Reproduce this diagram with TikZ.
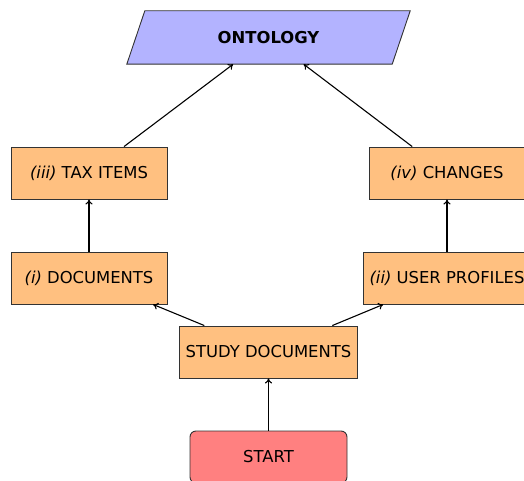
\documentclass[tikz,border=0pt]{standalone}
\usepackage{fontspec}
\setmainfont{DejaVu Sans}
\usetikzlibrary{arrows.meta}
\pgfdeclarelayer{background}
\pgfsetlayers{background,main}
\definecolor{boxfill}{RGB}{255,192,128}
\definecolor{ontofill}{RGB}{179,179,255}
\definecolor{startfill}{RGB}{255,128,128}
\tikzset{
  labelfont/.style={font=\fontsize{16.4}{19}\selectfont},
  stepbox/.style={draw=black!80, fill=boxfill, rectangle, minimum width=156pt,
    minimum height=52pt, inner xsep=6pt, line width=0.9pt, labelfont},
  startbox/.style={stepbox, fill=startfill, rounded corners=6pt, minimum width=157pt},
  flow/.style={-{To[length=5pt,width=7pt]}, line width=1.1pt}
}
\begin{document}
\begin{tikzpicture}[x=1pt,y=-1pt]
  \useasboundingbox (0,0) rectangle (524,481);
  \clip (0,0) rectangle (524,481);

  % ontology: text node framed by a parallelogram behind it
  \node[minimum width=283pt, minimum height=53pt, inner sep=0pt,
        labelfont, font=\fontsize{16.4}{19}\selectfont\bfseries] (onto) at (268.5,37.5) {ONTOLOGY};
  \begin{pgfonlayer}{background}
    \filldraw[draw=black!80, fill=ontofill, line width=0.9pt]
      ([xshift=18pt]onto.north west) -- (onto.north east)
      -- ([xshift=-18pt]onto.south east) -- (onto.south west) -- cycle;
  \end{pgfonlayer}

  \node[stepbox] (tax) at (89,173) {\textit{(iii)} TAX ITEMS};
  \node[stepbox] (chg) at (447,173) {\textit{(iv)} CHANGES};
  \node[stepbox] (doc) at (89,278) {\textit{(i)} DOCUMENTS};
  \node[stepbox] (usr) at (447,278) {\textit{(ii)} USER PROFILES};
  \node[stepbox] (study) at (268.5,352) {STUDY DOCUMENTS};
  \node[startbox] (start) at (268.5,457) {START};

  \draw[flow] (start) -- (study);
  \draw[flow] (study) -- (doc);
  \draw[flow] (study) -- (usr);
  \draw[flow] (doc) -- (tax);
  \draw[flow] (usr) -- (chg);
  \draw[flow] (tax) -- (onto);
  \draw[flow] (chg) -- (onto);
\end{tikzpicture}
\end{document}
